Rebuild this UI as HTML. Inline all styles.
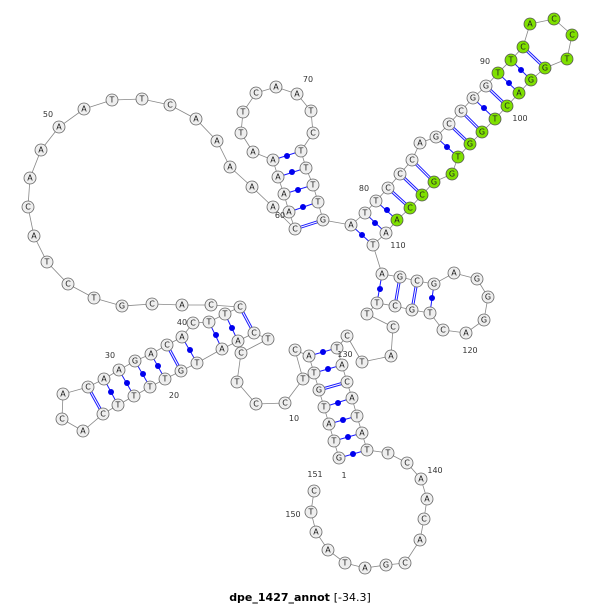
<!DOCTYPE html>
<html><head><meta charset="utf-8"><style>
body{margin:0;background:#fff;width:600px;height:605px;overflow:hidden}
svg{display:block}
.n circle{fill:#eeeeee;stroke:#666;stroke-width:0.8}
.g circle{fill:#7fe000;stroke:#555;stroke-width:0.8}
text.b{font-family:"DejaVu Sans","Liberation Sans",sans-serif;font-size:8px;text-anchor:middle;dominant-baseline:central;fill:#222}
text.l{font-family:"DejaVu Sans","Liberation Sans",sans-serif;font-size:8px;fill:#333;text-anchor:middle}
</style></head><body>
<svg width="600" height="605" viewBox="0 0 600 605">
<polyline fill="none" stroke="#888" stroke-width="0.8" points="339,458 334,441 329,424 324,407 319,390 314,373 309,356 295,350 303,379 285,403 256,404 237,382 241,353 268,339 254,333 238,341 222,349 197,363 181,371 165,379 150,387 134,396 118,405 103,414 83,431 62,419 63,394 88,387 104,379 119,370 135,361 151,354 167,345 182,337 193,323 209,322 225,314 240,307 211,305 182,305 152,304 122,306 94,298 68,284 47,262 34,236 28,207 30,178 41,150 59,127 84,109 112,100 142,99 170,105 196,119 217,141 230,167 252,187 273,207 295,229 289,212 284,194 278,177 273,160 253,152 241,133 243,112 256,93 276,87 297,94 311,111 313,133 301,151 306,168 313,185 318,202 323,220 351,225 365,213 376,201 388,188 400,174 412,160 420,143 436,137 449,124 461,111 473,98 486,86 498,73 511,60 523,47 530,24 554,19 572,35 567,59 545,68 531,80 519,93 507,106 495,119 482,132 470,144 458,157 452,174 434,182 422,195 410,208 397,220 386,233 373,245 382,274 400,277 417,281 434,284 454,273 477,279 488,297 484,320 466,333 443,330 430,313 412,310 395,306 377,303 367,314 393,327 391,356 362,362 347,336 337,348 342,365 347,382 352,398 357,416 362,433 367,450 388,453 407,463 421,479 427,499 424,519 420,540 405,563 386,565 365,568 345,563 328,550 316,532 311,512 314,491"/>
<g stroke="#1a1aff" stroke-width="1">
<line x1="339" y1="458" x2="367" y2="450"/><line x1="334" y1="441" x2="362" y2="433"/><line x1="329" y1="424" x2="357" y2="416"/><line x1="324" y1="407" x2="352" y2="398"/><line x1="314" y1="373" x2="342" y2="365"/><line x1="309" y1="356" x2="337" y2="348"/>
<line x1="103" y1="414" x2="88" y2="387"/>
<line x1="118" y1="405" x2="104" y2="379"/><line x1="134" y1="396" x2="119" y2="370"/><line x1="150" y1="387" x2="135" y2="361"/><line x1="165" y1="379" x2="151" y2="354"/><line x1="197" y1="363" x2="182" y2="337"/><line x1="222" y1="349" x2="209" y2="322"/><line x1="238" y1="341" x2="225" y2="314"/>
<line x1="273" y1="160" x2="301" y2="151"/><line x1="278" y1="177" x2="306" y2="168"/><line x1="284" y1="194" x2="313" y2="185"/><line x1="289" y1="212" x2="318" y2="202"/>
<line x1="351" y1="225" x2="373" y2="245"/><line x1="365" y1="213" x2="386" y2="233"/><line x1="376" y1="201" x2="397" y2="220"/><line x1="436" y1="137" x2="458" y2="157"/><line x1="473" y1="98" x2="495" y2="119"/><line x1="498" y1="73" x2="519" y2="93"/><line x1="511" y1="60" x2="531" y2="80"/>
<line x1="382" y1="274" x2="377" y2="303"/><line x1="434" y1="284" x2="430" y2="313"/>
</g>
<g stroke="#1a1aff" stroke-width="3"><line x1="319" y1="390" x2="347" y2="382"/><line x1="88" y1="387" x2="103" y2="414"/><line x1="181" y1="371" x2="167" y2="345"/><line x1="240" y1="307" x2="254" y2="333"/><line x1="295" y1="229" x2="323" y2="220"/><line x1="388" y1="188" x2="410" y2="208"/><line x1="400" y1="174" x2="422" y2="195"/><line x1="412" y1="160" x2="434" y2="182"/><line x1="449" y1="124" x2="470" y2="144"/><line x1="461" y1="111" x2="482" y2="132"/><line x1="486" y1="86" x2="507" y2="106"/><line x1="523" y1="47" x2="545" y2="68"/><line x1="400" y1="277" x2="395" y2="306"/><line x1="417" y1="281" x2="412" y2="310"/></g>
<g stroke="#fff" stroke-width="1"><line x1="319" y1="390" x2="347" y2="382"/><line x1="88" y1="387" x2="103" y2="414"/><line x1="181" y1="371" x2="167" y2="345"/><line x1="240" y1="307" x2="254" y2="333"/><line x1="295" y1="229" x2="323" y2="220"/><line x1="388" y1="188" x2="410" y2="208"/><line x1="400" y1="174" x2="422" y2="195"/><line x1="412" y1="160" x2="434" y2="182"/><line x1="449" y1="124" x2="470" y2="144"/><line x1="461" y1="111" x2="482" y2="132"/><line x1="486" y1="86" x2="507" y2="106"/><line x1="523" y1="47" x2="545" y2="68"/><line x1="400" y1="277" x2="395" y2="306"/><line x1="417" y1="281" x2="412" y2="310"/></g>
<g fill="#0000ee">
<circle cx="353" cy="454" r="3"/><circle cx="348" cy="437" r="3"/><circle cx="343" cy="420" r="3"/><circle cx="338" cy="403" r="3"/><circle cx="328" cy="369" r="3"/><circle cx="323" cy="352" r="3"/>
<circle cx="111" cy="392" r="3"/><circle cx="127" cy="383" r="3"/><circle cx="143" cy="374" r="3"/><circle cx="158" cy="366" r="3"/><circle cx="190" cy="350" r="3"/><circle cx="216" cy="335" r="3"/><circle cx="232" cy="328" r="3"/>
<circle cx="287" cy="156" r="3"/><circle cx="292" cy="172" r="3"/><circle cx="298" cy="190" r="3"/><circle cx="303" cy="207" r="3"/>
<circle cx="362" cy="235" r="3"/><circle cx="375" cy="223" r="3"/><circle cx="387" cy="210" r="3"/><circle cx="447" cy="147" r="3"/><circle cx="484" cy="108" r="3"/><circle cx="509" cy="83" r="3"/><circle cx="521" cy="70" r="3"/>
<circle cx="380" cy="289" r="3"/><circle cx="432" cy="298" r="3"/>
</g>
<g class="n">
<circle cx="339" cy="458" r="6"/><circle cx="334" cy="441" r="6"/><circle cx="329" cy="424" r="6"/><circle cx="324" cy="407" r="6"/><circle cx="319" cy="390" r="6"/><circle cx="314" cy="373" r="6"/><circle cx="309" cy="356" r="6"/><circle cx="295" cy="350" r="6"/><circle cx="303" cy="379" r="6"/><circle cx="285" cy="403" r="6"/><circle cx="256" cy="404" r="6"/><circle cx="237" cy="382" r="6"/><circle cx="241" cy="353" r="6"/><circle cx="268" cy="339" r="6"/><circle cx="254" cy="333" r="6"/><circle cx="238" cy="341" r="6"/><circle cx="222" cy="349" r="6"/><circle cx="197" cy="363" r="6"/><circle cx="181" cy="371" r="6"/><circle cx="165" cy="379" r="6"/><circle cx="150" cy="387" r="6"/><circle cx="134" cy="396" r="6"/><circle cx="118" cy="405" r="6"/><circle cx="103" cy="414" r="6"/><circle cx="83" cy="431" r="6"/><circle cx="62" cy="419" r="6"/><circle cx="63" cy="394" r="6"/><circle cx="88" cy="387" r="6"/><circle cx="104" cy="379" r="6"/><circle cx="119" cy="370" r="6"/><circle cx="135" cy="361" r="6"/><circle cx="151" cy="354" r="6"/><circle cx="167" cy="345" r="6"/><circle cx="182" cy="337" r="6"/><circle cx="193" cy="323" r="6"/><circle cx="209" cy="322" r="6"/><circle cx="225" cy="314" r="6"/><circle cx="240" cy="307" r="6"/><circle cx="211" cy="305" r="6"/><circle cx="182" cy="305" r="6"/><circle cx="152" cy="304" r="6"/><circle cx="122" cy="306" r="6"/><circle cx="94" cy="298" r="6"/><circle cx="68" cy="284" r="6"/><circle cx="47" cy="262" r="6"/><circle cx="34" cy="236" r="6"/><circle cx="28" cy="207" r="6"/><circle cx="30" cy="178" r="6"/><circle cx="41" cy="150" r="6"/><circle cx="59" cy="127" r="6"/><circle cx="84" cy="109" r="6"/><circle cx="112" cy="100" r="6"/><circle cx="142" cy="99" r="6"/><circle cx="170" cy="105" r="6"/><circle cx="196" cy="119" r="6"/><circle cx="217" cy="141" r="6"/><circle cx="230" cy="167" r="6"/><circle cx="252" cy="187" r="6"/><circle cx="273" cy="207" r="6"/><circle cx="295" cy="229" r="6"/><circle cx="289" cy="212" r="6"/><circle cx="284" cy="194" r="6"/><circle cx="278" cy="177" r="6"/><circle cx="273" cy="160" r="6"/><circle cx="253" cy="152" r="6"/><circle cx="241" cy="133" r="6"/><circle cx="243" cy="112" r="6"/><circle cx="256" cy="93" r="6"/><circle cx="276" cy="87" r="6"/><circle cx="297" cy="94" r="6"/><circle cx="311" cy="111" r="6"/><circle cx="313" cy="133" r="6"/><circle cx="301" cy="151" r="6"/><circle cx="306" cy="168" r="6"/><circle cx="313" cy="185" r="6"/><circle cx="318" cy="202" r="6"/><circle cx="323" cy="220" r="6"/><circle cx="351" cy="225" r="6"/><circle cx="365" cy="213" r="6"/><circle cx="376" cy="201" r="6"/><circle cx="388" cy="188" r="6"/><circle cx="400" cy="174" r="6"/><circle cx="412" cy="160" r="6"/><circle cx="420" cy="143" r="6"/><circle cx="436" cy="137" r="6"/><circle cx="449" cy="124" r="6"/><circle cx="461" cy="111" r="6"/><circle cx="473" cy="98" r="6"/><circle cx="486" cy="86" r="6"/>
<circle cx="386" cy="233" r="6"/><circle cx="373" cy="245" r="6"/><circle cx="382" cy="274" r="6"/><circle cx="400" cy="277" r="6"/><circle cx="417" cy="281" r="6"/><circle cx="434" cy="284" r="6"/><circle cx="454" cy="273" r="6"/><circle cx="477" cy="279" r="6"/><circle cx="488" cy="297" r="6"/><circle cx="484" cy="320" r="6"/><circle cx="466" cy="333" r="6"/><circle cx="443" cy="330" r="6"/><circle cx="430" cy="313" r="6"/><circle cx="412" cy="310" r="6"/><circle cx="395" cy="306" r="6"/><circle cx="377" cy="303" r="6"/><circle cx="367" cy="314" r="6"/><circle cx="393" cy="327" r="6"/><circle cx="391" cy="356" r="6"/><circle cx="362" cy="362" r="6"/><circle cx="347" cy="336" r="6"/><circle cx="337" cy="348" r="6"/><circle cx="342" cy="365" r="6"/><circle cx="347" cy="382" r="6"/><circle cx="352" cy="398" r="6"/><circle cx="357" cy="416" r="6"/><circle cx="362" cy="433" r="6"/><circle cx="367" cy="450" r="6"/><circle cx="388" cy="453" r="6"/><circle cx="407" cy="463" r="6"/><circle cx="421" cy="479" r="6"/><circle cx="427" cy="499" r="6"/><circle cx="424" cy="519" r="6"/><circle cx="420" cy="540" r="6"/><circle cx="405" cy="563" r="6"/><circle cx="386" cy="565" r="6"/><circle cx="365" cy="568" r="6"/><circle cx="345" cy="563" r="6"/><circle cx="328" cy="550" r="6"/><circle cx="316" cy="532" r="6"/><circle cx="311" cy="512" r="6"/><circle cx="314" cy="491" r="6"/>
</g>
<g class="g">
<circle cx="498" cy="73" r="6"/><circle cx="511" cy="60" r="6"/><circle cx="523" cy="47" r="6"/><circle cx="530" cy="24" r="6"/><circle cx="554" cy="19" r="6"/><circle cx="572" cy="35" r="6"/><circle cx="567" cy="59" r="6"/><circle cx="545" cy="68" r="6"/><circle cx="531" cy="80" r="6"/><circle cx="519" cy="93" r="6"/><circle cx="507" cy="106" r="6"/><circle cx="495" cy="119" r="6"/><circle cx="482" cy="132" r="6"/><circle cx="470" cy="144" r="6"/><circle cx="458" cy="157" r="6"/><circle cx="452" cy="174" r="6"/><circle cx="434" cy="182" r="6"/><circle cx="422" cy="195" r="6"/><circle cx="410" cy="208" r="6"/><circle cx="397" cy="220" r="6"/>
</g>
<g>
<text class="b" x="339" y="458">G</text><text class="b" x="334" y="441">T</text><text class="b" x="329" y="424">A</text><text class="b" x="324" y="407">T</text><text class="b" x="319" y="390">G</text><text class="b" x="314" y="373">T</text><text class="b" x="309" y="356">A</text><text class="b" x="295" y="350">C</text><text class="b" x="303" y="379">T</text><text class="b" x="285" y="403">C</text><text class="b" x="256" y="404">C</text><text class="b" x="237" y="382">T</text><text class="b" x="241" y="353">C</text><text class="b" x="268" y="339">T</text><text class="b" x="254" y="333">C</text><text class="b" x="238" y="341">A</text><text class="b" x="222" y="349">A</text><text class="b" x="197" y="363">T</text><text class="b" x="181" y="371">G</text><text class="b" x="165" y="379">T</text><text class="b" x="150" y="387">T</text><text class="b" x="134" y="396">T</text><text class="b" x="118" y="405">T</text><text class="b" x="103" y="414">C</text><text class="b" x="83" y="431">A</text><text class="b" x="62" y="419">C</text><text class="b" x="63" y="394">A</text><text class="b" x="88" y="387">C</text><text class="b" x="104" y="379">A</text><text class="b" x="119" y="370">A</text><text class="b" x="135" y="361">G</text><text class="b" x="151" y="354">A</text><text class="b" x="167" y="345">C</text><text class="b" x="182" y="337">A</text><text class="b" x="193" y="323">C</text><text class="b" x="209" y="322">T</text><text class="b" x="225" y="314">T</text><text class="b" x="240" y="307">C</text><text class="b" x="211" y="305">C</text><text class="b" x="182" y="305">A</text><text class="b" x="152" y="304">C</text><text class="b" x="122" y="306">G</text><text class="b" x="94" y="298">T</text><text class="b" x="68" y="284">C</text><text class="b" x="47" y="262">T</text><text class="b" x="34" y="236">A</text><text class="b" x="28" y="207">C</text><text class="b" x="30" y="178">A</text><text class="b" x="41" y="150">A</text><text class="b" x="59" y="127">A</text><text class="b" x="84" y="109">A</text><text class="b" x="112" y="100">T</text><text class="b" x="142" y="99">T</text><text class="b" x="170" y="105">C</text><text class="b" x="196" y="119">A</text><text class="b" x="217" y="141">A</text><text class="b" x="230" y="167">A</text><text class="b" x="252" y="187">A</text><text class="b" x="273" y="207">A</text><text class="b" x="295" y="229">C</text><text class="b" x="289" y="212">A</text><text class="b" x="284" y="194">A</text><text class="b" x="278" y="177">A</text><text class="b" x="273" y="160">A</text><text class="b" x="253" y="152">A</text><text class="b" x="241" y="133">T</text><text class="b" x="243" y="112">T</text><text class="b" x="256" y="93">C</text><text class="b" x="276" y="87">A</text><text class="b" x="297" y="94">A</text><text class="b" x="311" y="111">T</text><text class="b" x="313" y="133">C</text><text class="b" x="301" y="151">T</text><text class="b" x="306" y="168">T</text><text class="b" x="313" y="185">T</text><text class="b" x="318" y="202">T</text><text class="b" x="323" y="220">G</text><text class="b" x="351" y="225">A</text><text class="b" x="365" y="213">T</text><text class="b" x="376" y="201">T</text><text class="b" x="388" y="188">C</text><text class="b" x="400" y="174">C</text><text class="b" x="412" y="160">C</text><text class="b" x="420" y="143">A</text><text class="b" x="436" y="137">G</text><text class="b" x="449" y="124">C</text><text class="b" x="461" y="111">C</text><text class="b" x="473" y="98">G</text><text class="b" x="486" y="86">G</text><text class="b" x="498" y="73">T</text><text class="b" x="511" y="60">T</text><text class="b" x="523" y="47">C</text><text class="b" x="530" y="24">A</text><text class="b" x="554" y="19">C</text><text class="b" x="572" y="35">C</text><text class="b" x="567" y="59">T</text><text class="b" x="545" y="68">G</text><text class="b" x="531" y="80">G</text><text class="b" x="519" y="93">A</text><text class="b" x="507" y="106">C</text><text class="b" x="495" y="119">T</text><text class="b" x="482" y="132">G</text><text class="b" x="470" y="144">G</text><text class="b" x="458" y="157">T</text><text class="b" x="452" y="174">G</text><text class="b" x="434" y="182">G</text><text class="b" x="422" y="195">C</text><text class="b" x="410" y="208">C</text><text class="b" x="397" y="220">A</text><text class="b" x="386" y="233">A</text><text class="b" x="373" y="245">T</text><text class="b" x="382" y="274">A</text><text class="b" x="400" y="277">G</text><text class="b" x="417" y="281">C</text><text class="b" x="434" y="284">G</text><text class="b" x="454" y="273">A</text><text class="b" x="477" y="279">G</text><text class="b" x="488" y="297">G</text><text class="b" x="484" y="320">G</text><text class="b" x="466" y="333">A</text><text class="b" x="443" y="330">C</text><text class="b" x="430" y="313">T</text><text class="b" x="412" y="310">G</text><text class="b" x="395" y="306">C</text><text class="b" x="377" y="303">T</text><text class="b" x="367" y="314">T</text><text class="b" x="393" y="327">C</text><text class="b" x="391" y="356">A</text><text class="b" x="362" y="362">T</text><text class="b" x="347" y="336">C</text><text class="b" x="337" y="348">T</text><text class="b" x="342" y="365">A</text><text class="b" x="347" y="382">C</text><text class="b" x="352" y="398">A</text><text class="b" x="357" y="416">T</text><text class="b" x="362" y="433">A</text><text class="b" x="367" y="450">T</text><text class="b" x="388" y="453">T</text><text class="b" x="407" y="463">C</text><text class="b" x="421" y="479">A</text><text class="b" x="427" y="499">A</text><text class="b" x="424" y="519">C</text><text class="b" x="420" y="540">A</text><text class="b" x="405" y="563">C</text><text class="b" x="386" y="565">G</text><text class="b" x="365" y="568">A</text><text class="b" x="345" y="563">T</text><text class="b" x="328" y="550">A</text><text class="b" x="316" y="532">A</text><text class="b" x="311" y="512">T</text><text class="b" x="314" y="491">C</text>
</g>
<g>
<text class="l" x="344" y="478">1</text><text class="l" x="294" y="421">10</text><text class="l" x="174" y="398">20</text><text class="l" x="110" y="358">30</text><text class="l" x="182" y="325">40</text><text class="l" x="48" y="117">50</text><text class="l" x="280" y="218">60</text><text class="l" x="308" y="82">70</text><text class="l" x="364" y="191">80</text><text class="l" x="485" y="64">90</text><text class="l" x="520" y="121">100</text><text class="l" x="398" y="248">110</text><text class="l" x="470" y="353">120</text><text class="l" x="345" y="357">130</text><text class="l" x="435" y="473">140</text><text class="l" x="293" y="517">150</text><text class="l" x="315" y="477">151</text>
</g>
<text x="300" y="601" font-family="DejaVu Sans, Liberation Sans, sans-serif" font-size="11" font-weight="bold" text-anchor="middle" fill="#000">dpe_1427_annot <tspan font-weight="normal">[-34.3]</tspan></text>
</svg>
</body></html>
